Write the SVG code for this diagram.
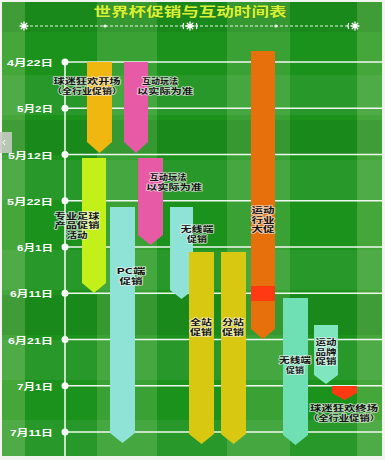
<svg xmlns="http://www.w3.org/2000/svg" width="385" height="460" viewBox="0 0 385 460">
<style>
.ax{font-family:"Liberation Sans","Noto Sans CJK SC",sans-serif;font-weight:bold;font-size:9px;fill:#fff;text-anchor:end}
.lb{font-family:"Noto Sans CJK SC",sans-serif;font-weight:bold;font-size:7.5px;fill:#111;text-anchor:middle;stroke:#f4f4f4;stroke-width:1.6px;stroke-opacity:0.7;paint-order:stroke;stroke-linejoin:round}
.gl{stroke:#fff;stroke-width:1.6;stroke-opacity:0.92}
.orn{stroke:#fff;stroke-width:1.3;stroke-linecap:round;fill:none}
</style>
<rect width="385" height="460" fill="#f2f4f0"/>
<g id="field">
<rect x="2" y="2" width="380" height="454" fill="#1a921c"/>
<rect x="2" y="2" width="23" height="454" fill="#45a63a"/>
<rect x="97" y="2" width="60" height="454" fill="#3aa234"/>
<rect x="227" y="2" width="63" height="454" fill="#3aa234"/>
<rect x="357" y="2" width="25" height="454" fill="#45a63a"/>
<g fill="#ffffff" fill-opacity="0.06">
<rect x="2" y="75" width="380" height="40"/>
<rect x="2" y="160" width="380" height="40"/>
<rect x="2" y="250" width="380" height="40"/>
<rect x="2" y="340" width="380" height="40"/>
<rect x="2" y="420" width="380" height="36"/>
</g>
<g fill="#000" fill-opacity="0.06">
<rect x="2" y="2" width="380" height="30"/>
<rect x="2" y="120" width="380" height="35"/>
<rect x="2" y="295" width="380" height="40"/>
</g>
</g>
<g id="title">
<text x="190" y="15.5" font-family="Noto Sans CJK SC,sans-serif" font-weight="bold" font-size="13" fill="#d4f23a" stroke="#3c7a12" stroke-width="0.7" paint-order="stroke" text-anchor="middle" textLength="193" lengthAdjust="spacingAndGlyphs">世界杯促销与互动时间表</text>
<line x1="30" y1="26" x2="350" y2="26" stroke="#fff" stroke-width="1" stroke-dasharray="3,2" stroke-opacity="0.9"/>
<circle cx="105" cy="26" r="1.6" fill="#fff"/>
<circle cx="276" cy="26" r="1.6" fill="#fff"/>
<g class="orn">
<path d="M20,26h8M24,22v8M21.2,23.2l5.6,5.6M26.8,23.2l-5.6,5.6"/>
<path d="M186,26h8M190,22v8M187.2,23.2l5.6,5.6M192.8,23.2l-5.6,5.6M183.5,23.5q-1,2.5 0,5M196.5,23.5q1,2.5 0,5"/>
<path d="M351,26h8M355,22v8M352.2,23.2l5.6,5.6M357.8,23.2l-5.6,5.6M348.5,23.5q-1,2.5 0,5"/>
</g>
</g>
<g id="connectors">
<line class="gl" x1="65" y1="62" x2="65" y2="456"/>
<line class="gl" x1="65" y1="62" x2="382" y2="62"/>
<line class="gl" x1="65" y1="108.25" x2="382" y2="108.25"/>
<line class="gl" x1="65" y1="154.5" x2="382" y2="154.5"/>
<line class="gl" x1="65" y1="200.75" x2="382" y2="200.75"/>
<line class="gl" x1="65" y1="247" x2="382" y2="247"/>
<line class="gl" x1="65" y1="293.25" x2="382" y2="293.25"/>
<line class="gl" x1="65" y1="339.5" x2="382" y2="339.5"/>
<line class="gl" x1="65" y1="385.75" x2="382" y2="385.75"/>
<line class="gl" x1="65" y1="432" x2="382" y2="432"/>
<g fill="#fff">
<circle cx="65" cy="62" r="3.5"/>
<circle cx="65" cy="108.25" r="3.5"/>
<circle cx="65" cy="154.5" r="3.5"/>
<circle cx="65" cy="200.75" r="3.5"/>
<circle cx="65" cy="247" r="3.5"/>
<circle cx="65" cy="293.25" r="3.5"/>
<circle cx="65" cy="339.5" r="3.5"/>
<circle cx="65" cy="385.75" r="3.5"/>
<circle cx="65" cy="432" r="3.5"/>
</g>
</g>
<g id="axis-labels">
<text class="ax" x="53" y="66" textLength="46" lengthAdjust="spacingAndGlyphs">4月22日</text>
<text class="ax" x="53" y="112.25" textLength="36" lengthAdjust="spacingAndGlyphs">5月2日</text>
<text class="ax" x="53" y="158.5" textLength="45" lengthAdjust="spacingAndGlyphs">5月12日</text>
<text class="ax" x="53" y="204.75" textLength="46" lengthAdjust="spacingAndGlyphs">5月22日</text>
<text class="ax" x="53" y="251" textLength="36" lengthAdjust="spacingAndGlyphs">6月1日</text>
<text class="ax" x="53" y="297.25" textLength="43" lengthAdjust="spacingAndGlyphs">6月11日</text>
<text class="ax" x="53" y="343.5" textLength="45" lengthAdjust="spacingAndGlyphs">6月21日</text>
<text class="ax" x="53" y="389.75" textLength="36" lengthAdjust="spacingAndGlyphs">7月1日</text>
<text class="ax" x="53" y="436" textLength="43" lengthAdjust="spacingAndGlyphs">7月11日</text>
</g>
<g id="bar-fans-open">
<polygon points="87,62 112,62 112,142 99.5,153 87,142" fill="#efb70f"/>
<text class="lb" x="87" y="84" textLength="67" lengthAdjust="spacingAndGlyphs">球迷狂欢开场</text>
<text class="lb" x="87" y="93.5" textLength="70" lengthAdjust="spacingAndGlyphs">（全行业促销）</text>
</g>
<g id="bar-interact-1">
<polygon points="124,62 148,62 148,142 136,153 124,142" fill="#e65aa6"/>
<text class="lb" x="160" y="84" textLength="36" lengthAdjust="spacingAndGlyphs">互动玩法</text>
<text class="lb" x="165" y="93.5" textLength="56" lengthAdjust="spacingAndGlyphs">以实际为准</text>
</g>
<g id="bar-football">
<polygon points="82,158 106,158 106,283 94,293 82,283" fill="#c4f01a"/>
<text class="lb" x="77" y="218.5" textLength="45" lengthAdjust="spacingAndGlyphs">专业足球</text>
<text class="lb" x="77" y="228" textLength="45" lengthAdjust="spacingAndGlyphs">产品促销</text>
<text class="lb" x="77" y="237.5" textLength="21" lengthAdjust="spacingAndGlyphs">活动</text>
</g>
<g id="bar-interact-2">
<polygon points="138,158 163,158 163,235 150.5,245 138,235" fill="#e65aa6"/>
<text class="lb" x="168" y="180" textLength="37" lengthAdjust="spacingAndGlyphs">互动玩法</text>
<text class="lb" x="174" y="189.5" textLength="56" lengthAdjust="spacingAndGlyphs">以实际为准</text>
</g>
<g id="bar-pc">
<polygon points="110,207 135,207 135,433 122.5,443 110,433" fill="#8fe3d6"/>
<text class="lb" x="131" y="274" textLength="29" lengthAdjust="spacingAndGlyphs">PC端</text>
<text class="lb" x="131" y="283.5" textLength="23" lengthAdjust="spacingAndGlyphs">促销</text>
</g>
<g id="bar-wireless-1">
<polygon points="170,207 193,207 193,290 181.5,299 170,290" fill="#8fe3d6"/>
<text class="lb" x="197" y="232" textLength="33" lengthAdjust="spacingAndGlyphs">无线端</text>
<text class="lb" x="197" y="241.5" textLength="20" lengthAdjust="spacingAndGlyphs">促销</text>
</g>
<g id="bar-all-site">
<polygon points="189,252 214,252 214,434 201.5,444 189,434" fill="#d9c812"/>
<text class="lb" x="201" y="325" textLength="22" lengthAdjust="spacingAndGlyphs">全站</text>
<text class="lb" x="201" y="334.5" textLength="22" lengthAdjust="spacingAndGlyphs">促销</text>
</g>
<g id="bar-sub-site">
<polygon points="221,252 246,252 246,434 233.5,444 221,434" fill="#d9c812"/>
<text class="lb" x="233" y="325" textLength="22" lengthAdjust="spacingAndGlyphs">分站</text>
<text class="lb" x="233" y="334.5" textLength="22" lengthAdjust="spacingAndGlyphs">促销</text>
</g>
<g id="bar-sports-industry">
<polygon points="251,51 275,51 275,329 263,339 251,329" fill="#e8700c"/>
<rect x="251" y="286" width="24" height="15" fill="#ff3a12"/>
<text class="lb" x="263" y="213" textLength="23" lengthAdjust="spacingAndGlyphs">运动</text>
<text class="lb" x="263" y="222.5" textLength="23" lengthAdjust="spacingAndGlyphs">行业</text>
<text class="lb" x="263" y="232" textLength="23" lengthAdjust="spacingAndGlyphs">大促</text>
</g>
<g id="bar-wireless-2">
<polygon points="283,298 308,298 308,435 295.5,445 283,435" fill="#6ee0b4"/>
<text class="lb" x="295" y="363" textLength="32" lengthAdjust="spacingAndGlyphs">无线端</text>
<text class="lb" x="295" y="372.5" textLength="18" lengthAdjust="spacingAndGlyphs">促销</text>
</g>
<g id="bar-sports-brand">
<polygon points="314,325 338,325 338,375 326,384 314,375" fill="#80e6c0"/>
<text class="lb" x="326" y="345" textLength="21" lengthAdjust="spacingAndGlyphs">运动</text>
<text class="lb" x="326" y="354.5" textLength="21" lengthAdjust="spacingAndGlyphs">品牌</text>
<text class="lb" x="326" y="364" textLength="21" lengthAdjust="spacingAndGlyphs">促销</text>
</g>
<g id="bar-fans-close">
<polygon points="332,386 357,386 357,393 344.5,400 332,393" fill="#ff3a12"/>
<text class="lb" x="344" y="411" textLength="68" lengthAdjust="spacingAndGlyphs">球迷狂欢终场</text>
<text class="lb" x="344" y="420.5" textLength="72" lengthAdjust="spacingAndGlyphs">（全行业促销）</text>
</g>
<g id="side-tab">
<rect x="0" y="132" width="12" height="21" fill="#c5cbc2" fill-opacity="0.9"/>
<path d="M5,140l-2,2.5l2,2.5" stroke="#fff" stroke-width="1" fill="none"/>
</g>
</svg>
